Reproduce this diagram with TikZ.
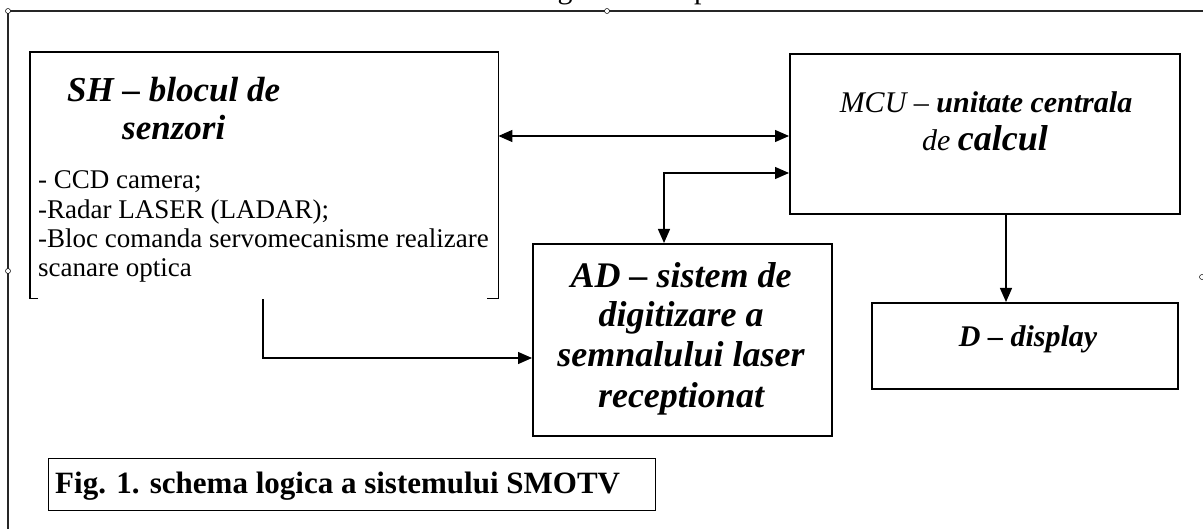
\documentclass[tikz,border=0pt]{standalone}
\usepackage{fontspec}
\setmainfont{Liberation Serif}
\usetikzlibrary{arrows.meta,calc}
\begin{document}
\begin{tikzpicture}[x=1pt,y=-1pt,
  box/.style={draw, line width=1.7pt, inner sep=0pt, anchor=north west},
  tip/.tip={Triangle[length=14pt,width=12pt]},
  conn/.style={line width=1.3pt, -tip},
  biconn/.style={line width=1.3pt, tip-tip},
  frameline/.style={line width=1.3pt, draw=black!85},
  handle/.style={circle, draw, fill=white, line width=0.5pt, inner sep=0pt, minimum size=5pt},
  txt/.style={inner sep=0pt, anchor=base},
  shtitle/.style={font=\fontsize{35}{38}\selectfont\bfseries\itshape},
  body/.style={font=\fontsize{27}{29}\selectfont},
  mcuit/.style={font=\fontsize{30}{34}\selectfont\itshape},
  adtitle/.style={font=\fontsize{36}{40}\selectfont\bfseries\itshape},
  dtitle/.style={font=\fontsize{30}{34}\selectfont\bfseries\itshape},
  captxt/.style={font=\fontsize{31}{34}\selectfont\bfseries},
]
\useasboundingbox (0,0) rectangle (1203,529);

% frame of the drawing area and its handles
\draw[frameline] (1203,11) -- (8,11) -- (8,529);
\node[txt, font=\fontsize{30}{30}\selectfont] (cutg) at (565,-1) {g};
\node[txt, anchor=base west, font=\fontsize{30}{30}\selectfont] (cutp) at (694,-1) {p};
\node[handle] (h1) at (8,11) {};
\node[handle] (h2) at (607,11) {};
\node[handle] (h3) at (8,271) {};
\node[handle] (h4) at (1202,277) {};

% sensor block (open bottom with corner ticks)
\node[inner sep=0pt, anchor=north west, minimum width=468pt, minimum height=246pt] (sh) at (30,52) {};
\draw[line width=1.7pt] ($(sh.south west)+(8,0)$) -- (sh.south west) -- (sh.north west)
  -- (sh.north east) -- (sh.south east) -- ++(-11,0);
\node[txt, anchor=base west, shtitle] (sh1) at (67,102) {SH – blocul de};
\node[txt, anchor=base west, shtitle] (sh2) at (122,140) {senzori};
\node[txt, anchor=base west, body] (shb1) at (38,189) {- CCD camera;};
\node[txt, anchor=base west, body] (shb2) at (38,218.5) {-Radar LASER (LADAR);};
\node[txt, anchor=base west, body] (shb3) at (38,248) {-Bloc comanda servomecanisme realizare};
\node[txt, anchor=base west, body] (shb4) at (38,277) {scanare optica};

% central unit
\node[box, minimum width=390pt, minimum height=160pt] (mcu) at (789,53) {};
\node[txt, mcuit] (mcu1) at (986,113) {MCU – \textbf{unitate centrala}};
\node[txt, mcuit] (mcu2) at (985,151) {de \textbf{\fontsize{36}{40}\selectfont calcul}};

% digitizer
\node[box, minimum width=299pt, minimum height=192pt] (ad) at (532,243) {};
\node[txt, adtitle] (ad1) at (681,288) {AD – sistem de};
\node[txt, adtitle] (ad2) at (681,327) {digitizare a};
\node[txt, adtitle] (ad3) at (681,367) {semnalului laser};
\node[txt, adtitle] (ad4) at (681,407) {receptionat};

% display
\node[box, minimum width=306pt, minimum height=86pt] (disp) at (871,302) {};
\node[txt, dtitle] (d1) at (1028,347) {D – display};

% caption
\node[box, line width=1.3pt, minimum width=607pt, minimum height=52pt] (cap) at (48,458) {};
\node[txt, anchor=base west, captxt] (cap1) at (55,493) {Fig. 1. schema logica a sistemului SMOTV};

% connectors
\coordinate (ya) at (0,136);
\coordinate (yb) at (0,173);
\coordinate (yc) at (0,358);
\coordinate (xd) at (1006,0);
\coordinate (adin) at ($(ad.north west)+(132,0)$);
\coordinate (shout) at ($(sh.south west)+(233,1)$);
\draw[biconn] (sh.east |- ya) -- (mcu.west |- ya);
\draw[biconn] (mcu.west |- yb) -| (adin);
\draw[conn] (mcu.south -| xd) -- (disp.north -| xd);
\draw[conn] (shout) |- (ad.west |- yc);
\end{tikzpicture}
\end{document}
